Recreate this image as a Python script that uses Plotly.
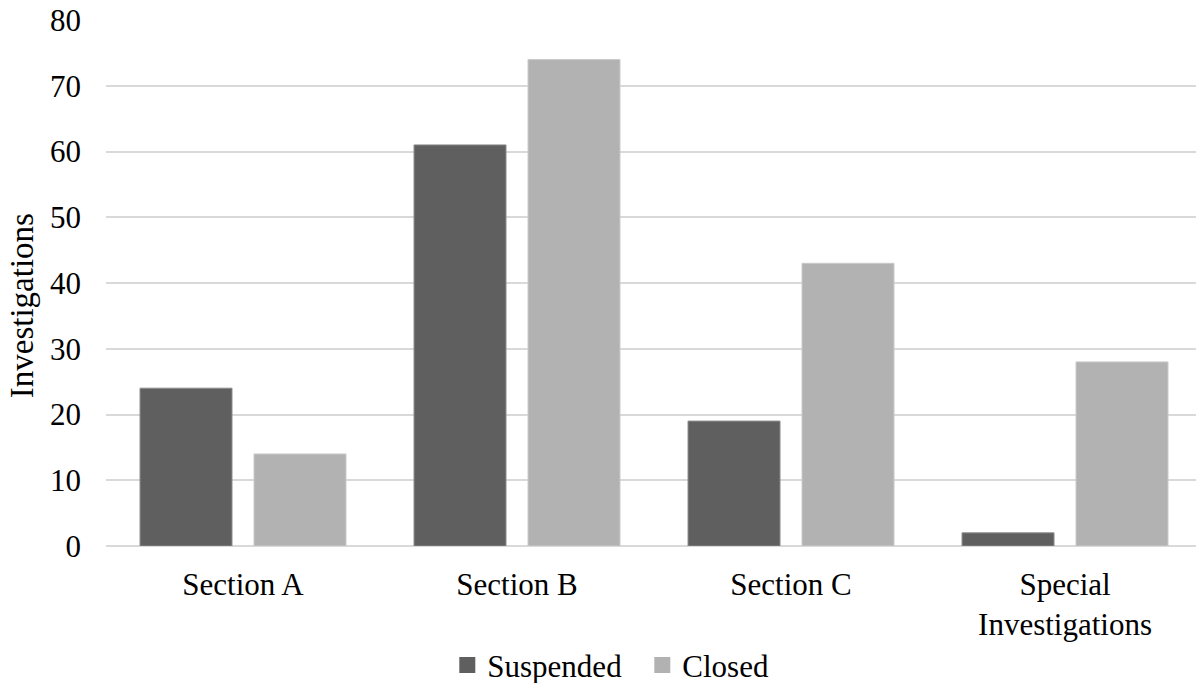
import plotly.graph_objects as go

# Investigation counts per section
categories = ["Section A", "Section B", "Section C", "Special<br>Investigations"]
suspended = [24, 61, 19, 2]
closed = [14, 74, 43, 28]
y_ticks = [0, 10, 20, 30, 40, 50, 60, 70, 80]

series = [("Suspended", suspended, "#5f5f5f", "#8c8c8c"),
          ("Closed", closed, "#b2b2b2", "#cacaca")]

FONT = "Liberation Serif"

fig = go.Figure()
for name, values, fill, edge in series:
    fig.add_trace(go.Bar(
        name=name, x=categories, y=values, showlegend=False,
        marker=dict(color=fill, line=dict(color=edge, width=1)),
    ))
# legend keys drawn as larger square markers
for name, values, fill, edge in series:
    fig.add_trace(go.Scatter(
        name=name, x=[None], y=[None], mode="markers",
        marker=dict(symbol="square", size=16, color=fill, line=dict(width=0)),
    ))

fig.update_layout(
    width=1196, height=683,
    margin=dict(l=106, r=0, t=20, b=137, autoexpand=False),
    paper_bgcolor="white", plot_bgcolor="white",
    font=dict(family=FONT, size=31, color="black"),
    barmode="group", bargap=0.168, bargroupgap=0.193,
    showlegend=True,
    legend=dict(
        orientation="h", x=0.374, xref="container", xanchor="left",
        y=0.026, yref="container", yanchor="middle",
        font=dict(family=FONT, size=31), itemsizing="trace",
        tracegroupgap=0, itemwidth=30, entrywidth=150,
    ),
    xaxis=dict(
        range=[-0.5, 3.478], showgrid=False, showline=False,
        ticks="", tickfont=dict(family=FONT, size=31), ticklabelstandoff=17,
    ),
    yaxis=dict(
        range=[0, 80], tickvals=y_ticks, showgrid=True,
        gridcolor="#d9d9d9", gridwidth=2, zeroline=True,
        zerolinecolor="#d9d9d9", zerolinewidth=2,
        showline=False, ticks="", tickfont=dict(family=FONT, size=31),
        ticklabelstandoff=24,
    ),
    annotations=[dict(
        text="Investigations", textangle=-90, showarrow=False,
        xref="paper", yref="paper", x=-0.077, xanchor="center",
        y=0.456, yanchor="middle", font=dict(family=FONT, size=33),
    )],
)

fig.write_html("out.html")
